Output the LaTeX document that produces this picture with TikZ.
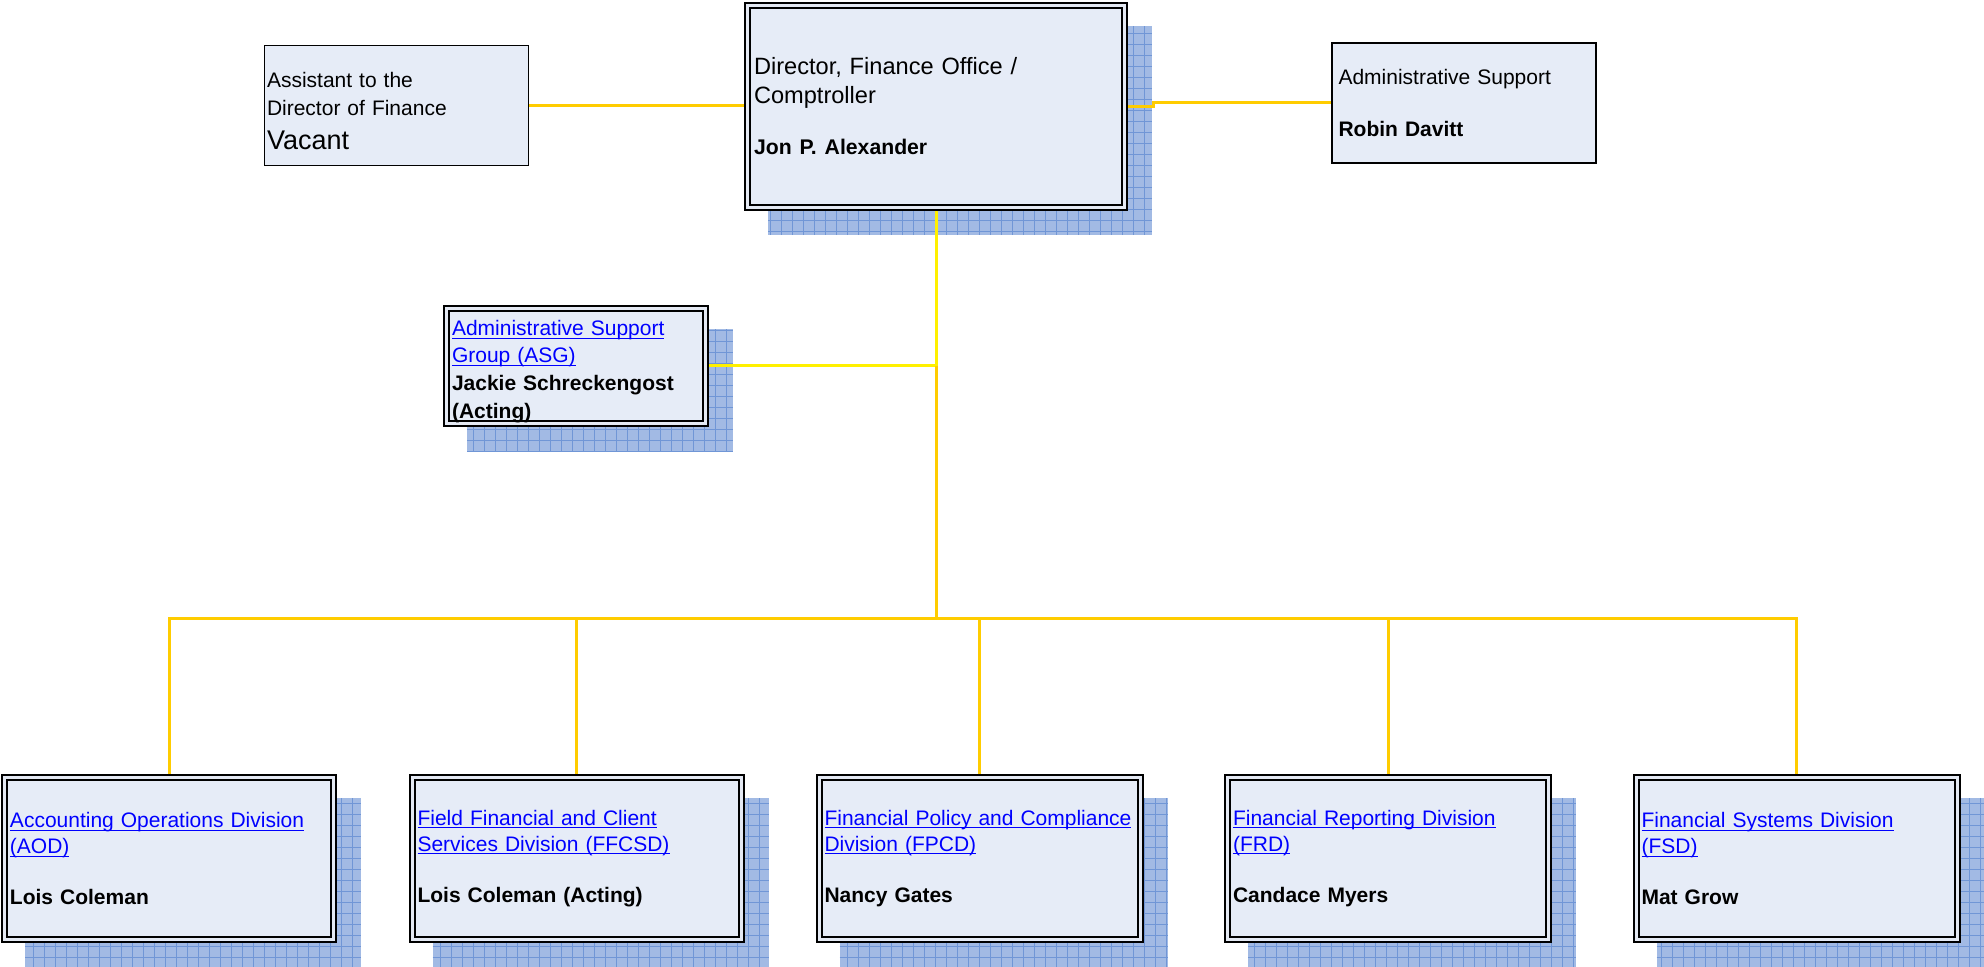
\documentclass[tikz,border=0pt]{standalone}
\usepackage{fontspec}
\setmainfont{Liberation Sans}
\usepackage{xcolor}
\usetikzlibrary{calc,backgrounds}

\definecolor{boxfill}{RGB}{230,236,247}
\definecolor{gapfill}{RGB}{228,233,243}
\definecolor{shadowblue}{RGB}{162,186,228}
\definecolor{shadowgrid}{RGB}{112,150,214}
\definecolor{linegold}{RGB}{255,204,0}
\definecolor{lineyellow}{RGB}{255,240,0}
\definecolor{linkblue}{RGB}{0,0,255}

\newcommand{\lnk}[1]{\textcolor{linkblue}{\vphantom{Ag}$\underline{\smash{\mbox{#1}}}$}}
\newcommand{\boxshadow}[1]{%
  \fill[shadowblue] ($(#1.north west)+(20.5,20.5)$) rectangle ($(#1.south east)+(27.5,27.5)$);
  \draw[shadowgrid, line width=0.35pt, step=5.5pt] ($(#1.north west)+(20.5,20.5)$) grid ($(#1.south east)+(27.5,27.5)$);}

\begin{document}
\begin{tikzpicture}[x=0.5pt, y=-0.5pt,
    dbox/.style={draw=black, fill=boxfill, line width=1pt, double=gapfill, double distance=1.5pt, inner xsep=2.75pt, inner ysep=0pt, outer sep=0pt, align=left},
    sbox/.style={draw=black, fill=boxfill, line width=0.75pt, inner ysep=0pt, outer sep=0pt, align=left, font=\fontsize{10.5}{14}\selectfont},
    divbox/.style={dbox, minimum height=81pt, text width=155pt, font=\fontsize{10.5}{13}\selectfont},
    report/.style={draw=linegold, line width=1.5pt},
    staffline/.style={draw=lineyellow, line width=1.5pt}]

    \useasboundingbox (0,0) rectangle (1984,967);

    \node[dbox, inner xsep=3.25pt, text width=182pt, minimum height=101pt, font=\fontsize{11.8}{14.5}\selectfont] (dir) at (936,106.5) {Director, Finance Office /\\ Comptroller\\[11pt] {\fontsize{10.6}{14.5}\selectfont\textbf{Jon P. Alexander}}};
    \node[sbox, inner xsep=1.25pt, text width=129.5pt, minimum height=60pt] (asst) at (396.5,105.5) {\rule{0pt}{13.6pt}Assistant to the\\ Director of Finance\\[3pt] {\fontsize{13.5}{17}\selectfont Vacant}};
    \node[sbox, inner xsep=3.25pt, text width=125.5pt, minimum height=60pt, font=\fontsize{10.5}{13.5}\selectfont] (adm) at (1464,103) {Administrative Support\\[12pt] \textbf{Robin Davitt}};
    \node[dbox, text width=124pt, minimum height=57.5pt, font=\fontsize{10.5}{13.8}\selectfont] (asg) at (576,366) {\rule{0pt}{13pt}\lnk{Administrative Support}\\ \lnk{Group (ASG)}\\ \textbf{Jackie Schreckengost}\\ \textbf{(Acting)}};

    \node[divbox, text width=159pt] (aod) at (169,858.5) {\lnk{Accounting Operations Division}\\ \lnk{(AOD)}\\[12.5pt] \textbf{Lois Coleman}};
    \node[divbox, text width=159pt] (ffcsd) at (576.5,858.5) {\lnk{Field Financial and Client}\\ \lnk{Services Division (FFCSD)}\\[12.5pt] \textbf{Lois Coleman (Acting)}};
    \node[divbox] (fpcd) at (979.5,858.5) {\lnk{Financial Policy and Compliance}\\ \lnk{Division (FPCD)}\\[12.5pt] \textbf{Nancy Gates}};
    \node[divbox] (frd) at (1388,858.5) {\lnk{Financial Reporting Division}\\ \lnk{(FRD)}\\[12.5pt] \textbf{Candace Myers}};
    \node[divbox] (fsd) at (1796.5,858.5) {\lnk{Financial Systems Division}\\ \lnk{(FSD)}\\[12.5pt] \textbf{Mat Grow}};

    \coordinate (jn) at (dir.south |- asg.east);
    \coordinate (bus) at (936,618);

    \begin{scope}[on background layer]
      \fill[white] (0,0) rectangle (1984,967);
      \boxshadow{dir}
      \boxshadow{asg}
      \boxshadow{aod}
      \boxshadow{ffcsd}
      \boxshadow{fpcd}
      \boxshadow{frd}
      \boxshadow{fsd}

      \draw[report] (asst.east) -- (asst.east -| dir.west);
      \draw[report] (dir.east) -- ++(28.5,0) |- (adm.west);
      \draw[staffline] (dir.south) -- (jn) -- (asg.east);
      \draw[report] (jn) -- (bus);
      \draw[report] (aod.north) |- (bus) -| (fsd.north);
      \draw[report] (bus -| ffcsd.north) -- (ffcsd.north);
      \draw[report] (bus -| fpcd.north) -- (fpcd.north);
      \draw[report] (bus -| frd.north) -- (frd.north);
    \end{scope}

\end{tikzpicture}
\end{document}
